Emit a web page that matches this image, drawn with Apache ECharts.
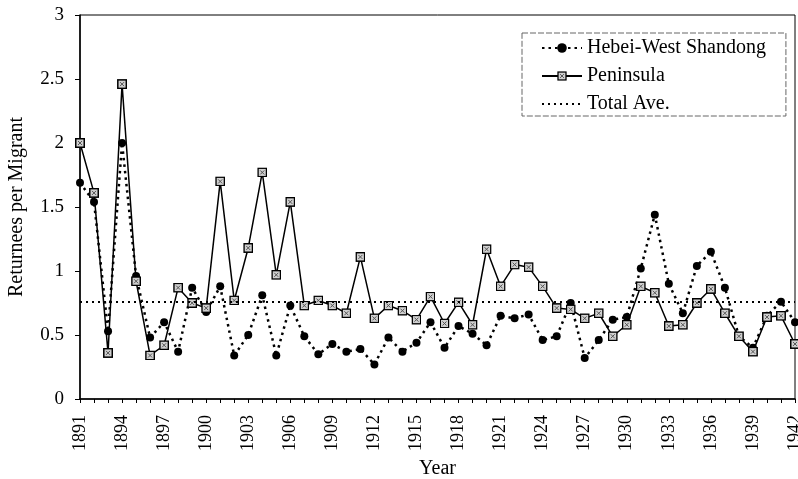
<!DOCTYPE html>
<html>
<head>
    <meta charset="utf-8">
    <title>Returnees per Migrant</title>
</head>
<body style="margin:0">
<div id="main" style="width: 798px;height:479px;"></div>
<script src="https://cdn.jsdelivr.net/npm/echarts@6/dist/echarts.min.js"></script>
<script type="text/javascript">
    // 年份
    var years = ['1891','1892','1893','1894','1895','1896','1897','1898','1899','1900',
        '1901','1902','1903','1904','1905','1906','1907','1908','1909','1910',
        '1911','1912','1913','1914','1915','1916','1917','1918','1919','1920',
        '1921','1922','1923','1924','1925','1926','1927','1928','1929','1930',
        '1931','1932','1933','1934','1935','1936','1937','1938','1939','1940',
        '1941','1942'];
    var hebei = [1.69, 1.54, 0.53, 2.00, 0.96, 0.48, 0.60, 0.37, 0.87, 0.68,
        0.88, 0.34, 0.50, 0.81, 0.34, 0.73, 0.49, 0.35, 0.43, 0.37,
        0.39, 0.27, 0.48, 0.37, 0.44, 0.60, 0.40, 0.57, 0.51, 0.42,
        0.65, 0.63, 0.66, 0.46, 0.49, 0.75, 0.32, 0.46, 0.62, 0.64,
        1.02, 1.44, 0.90, 0.67, 1.04, 1.15, 0.87, 0.49, 0.40, 0.65,
        0.76, 0.60];
    var peninsula = [2.00, 1.61, 0.36, 2.46, 0.92, 0.34, 0.42, 0.87, 0.75, 0.71,
        1.70, 0.77, 1.18, 1.77, 0.97, 1.54, 0.73, 0.77, 0.73, 0.67,
        1.11, 0.63, 0.73, 0.69, 0.62, 0.80, 0.59, 0.755, 0.58, 1.17,
        0.88, 1.05, 1.03, 0.88, 0.71, 0.70, 0.63, 0.67, 0.49, 0.58,
        0.88, 0.83, 0.57, 0.58, 0.75, 0.86, 0.67, 0.49, 0.37, 0.64,
        0.65, 0.43];
    var totalAve = 0.76;
    var yTicks = [0, 0.5, 1, 1.5, 2, 2.5, 3];

    // 方块标记（灰底带叉）
    var boxSvg = '<svg xmlns="http://www.w3.org/2000/svg" width="10" height="10">' +
        '<rect x="0.75" y="0.75" width="8.5" height="8.5" fill="#d0d0d0" stroke="#000" stroke-width="1.5"/>' +
        '<path d="M3 3L7 7M7 3L3 7" stroke="#555" stroke-width="1"/></svg>';
    var boxSymbol = 'image://data:image/svg+xml;charset=utf-8,' + encodeURIComponent(boxSvg);

    var font = 'Liberation Serif';
    var myChart = echarts.init(document.getElementById('main'));
    myChart.setOption({
        animation: false,
        textStyle: {fontFamily: font, color: '#000'},
        grid: {
            left: 80, right: 3, top: 15, bottom: 80,
            outerBoundsMode: 'none', containLabel: false,
            show: true, borderColor: '#000', borderWidth: 1
        },
        legend: {
            orient: 'vertical',
            left: 522,
            top: 33,
            width: 264,
            padding: [5, 20, 2, 19],
            itemWidth: 40,
            itemHeight: 12,
            itemGap: 8,
            borderColor: '#666',
            borderWidth: 1,
            borderType: [6, 2],
            textStyle: {fontFamily: font, fontSize: 20, color: '#000', lineHeight: 20},
            data: ['Hebei-West Shandong', 'Peninsula', 'Total Ave.']
        },
        xAxis: {
            type: 'category',
            data: years,
            boundaryGap: false,
            name: 'Year',
            nameLocation: 'middle',
            nameGap: 60,
            nameTextStyle: {fontFamily: font, fontSize: 20, color: '#000'},
            axisLine: {lineStyle: {color: '#000', width: 1.5}},
            axisTick: {interval: 0, length: 4, lineStyle: {color: '#000'}},
            axisLabel: {interval: 2, rotate: 90, margin: 16, fontFamily: font, fontSize: 18, color: '#000'},
            splitLine: {show: false}
        },
        yAxis: {
            type: 'value',
            min: 0,
            max: 3,
            interval: 0.5,
            name: 'Returnees per Migrant',
            nameLocation: 'middle',
            nameGap: 53,
            nameTextStyle: {fontFamily: font, fontSize: 20, color: '#000'},
            axisLine: {show: true, lineStyle: {color: '#000', width: 1.5}},
            axisTick: {show: true, length: 5, lineStyle: {color: '#000'}},
            axisLabel: {
                margin: 16, fontFamily: font, fontSize: 19, color: '#000',
                formatter: function (v) { return yTicks.indexOf(v) >= 0 ? String(v) : ''; }
            },
            splitLine: {show: false}
        },
        series: [
            {
                name: 'Hebei-West Shandong',
                type: 'line',
                data: hebei,
                symbol: 'circle',
                symbolSize: 8,
                showAllSymbol: true,
                itemStyle: {color: '#000'},
                lineStyle: {color: '#000', width: 2.5, type: [2.5, 4]},
                z: 2
            },
            {
                name: 'Peninsula',
                type: 'line',
                data: peninsula,
                symbol: boxSymbol,
                symbolSize: 10,
                showAllSymbol: true,
                itemStyle: {color: '#000'},
                lineStyle: {color: '#000', width: 1.5},
                z: 3
            },
            {
                name: 'Total Ave.',
                type: 'line',
                data: [],
                symbol: 'none',
                itemStyle: {color: '#000', opacity: 0},
                lineStyle: {color: '#000', width: 2, type: [2, 4]},
                markLine: {
                    silent: true,
                    symbol: 'none',
                    label: {show: false},
                    lineStyle: {color: '#000', width: 2, type: [2, 4], opacity: 1},
                    data: [{yAxis: totalAve}]
                },
                z: 1
            }
        ]
    });
</script>
</body>
</html>
